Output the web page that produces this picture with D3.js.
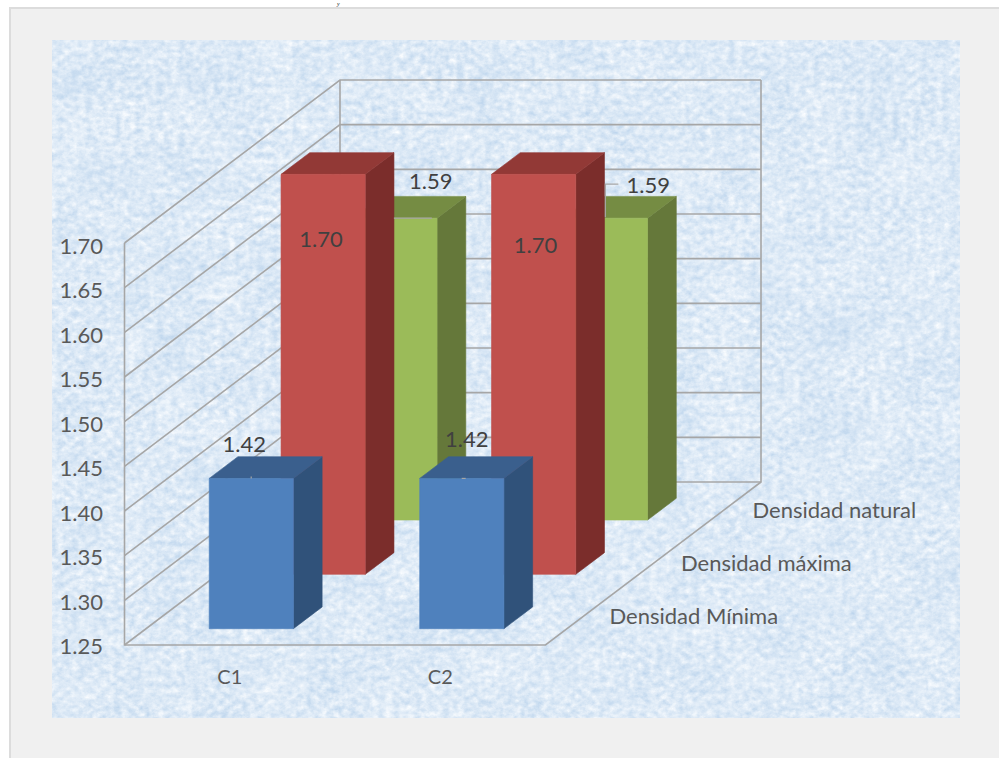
<!DOCTYPE html>
<html lang="es">
<head>
<meta charset="utf-8">
<title>Densidad por calicata</title>
<script src="https://cdn.jsdelivr.net/npm/d3@7/dist/d3.min.js"></script>
<style>
  html, body { margin: 0; padding: 0; background: #fff; }
  svg { display: block; }
  text { font-family: Lato, "Open Sans", sans-serif; }
</style>
</head>
<body>
<div id="chart"></div>
<script>
// Chart values
const categories = ["C1", "C2"];
const seriesNames = ["Densidad Mínima", "Densidad máxima", "Densidad natural"];
const densidadMinima = [1.42, 1.42];
const densidadMaxima = [1.70, 1.70];
const densidadNatural = [1.59, 1.59];
const axisTicks = [1.25, 1.30, 1.35, 1.40, 1.45, 1.50, 1.55, 1.60, 1.65, 1.70];

const seriesValues = [densidadMinima, densidadMaxima, densidadNatural];
const seriesColors = [
  { front: "#4f81bd", top: "#3a5f8d", side: "#30527a" },
  { front: "#c0504d", top: "#923936", side: "#7b2d2b" },
  { front: "#9bbb59", top: "#758c43", side: "#65783a" }
];

const width = 999, height = 758;
const fontSize = 22;
const svg = d3.select("#chart").append("svg").attr("width", width).attr("height", height);

// Mottled paper fill behind the plot: a fine grain over a very faint, broad cloud
const defs = svg.append("defs");
const paper = defs.append("filter").attr("id", "paper")
  .attr("x", 0).attr("y", 0).attr("width", 1).attr("height", 1)
  .attr("color-interpolation-filters", "sRGB");
paper.append("feTurbulence").attr("type", "fractalNoise")
  .attr("baseFrequency", "0.14 0.17").attr("numOctaves", 4).attr("seed", 11).attr("result", "grain");
paper.append("feTurbulence").attr("type", "fractalNoise")
  .attr("baseFrequency", "0.02").attr("numOctaves", 3).attr("seed", 5).attr("result", "cloud");
paper.append("feComposite").attr("in", "grain").attr("in2", "cloud")
  .attr("operator", "arithmetic").attr("k1", 0).attr("k2", 0.75).attr("k3", 0.25).attr("k4", 0);
paper.append("feColorMatrix").attr("type", "matrix").attr("values",
  "0.34 0 0 0 0.695  0.22 0 0 0 0.805  0.10 0 0 0 0.915  0 0 0 0 1");

// Page panel, edged along its top and left only
svg.append("rect").attr("width", width).attr("height", height).attr("fill", "#fff");
svg.append("rect").attr("x", 10).attr("y", 8).attr("width", width - 10).attr("height", height - 8)
  .attr("fill", "#f0f0f0");
svg.append("path").attr("d", d3.line()([[10, height], [10, 8], [width, 8]]))
  .attr("fill", "none").attr("stroke", "#dcdcdc").attr("stroke-width", 2);
svg.append("text").attr("x", 337).attr("y", 5.5).attr("font-size", 6)
  .attr("font-style", "italic").style("font-family", "'Liberation Serif', serif").attr("fill", "#222").text("y");
svg.append("rect").attr("x", 52).attr("y", 40).attr("width", 908).attr("height", 678)
  .attr("fill", "#dbe8f6").attr("filter", "url(#paper)");

// Oblique projection: t runs from the front plane (0) to the back wall (1)
const plot = { left: 124.5, right: 545.5, bottom: 645, top: 243 };
const depth = { dx: 215.5, dy: 163 };
const project = (x, y, t) => [x + depth.dx * t, y - depth.dy * t];

const xScale = d3.scaleBand().domain(categories).range([plot.left, plot.right])
  .paddingInner(0.6).paddingOuter(0.3);
const zScale = d3.scaleBand().domain(seriesNames).range([0, 1])
  .paddingInner(0.6).paddingOuter(0.3);
const yScale = d3.scaleLinear().domain([1.25, 1.70]).range([plot.bottom, plot.top]);
const barHeight = d3.scaleLinear().domain([1.2515, 1.70]).range([0, 400]);
const labelScale = d3.scaleLinear().domain([1.25, 1.70]).range([646.5, 246.5]);
const seriesLabelX = d3.scalePoint().domain(seriesNames).range([609.5, 752.5]);
const seriesLabelY = d3.scalePoint().domain(seriesNames).range([615.5, 509.5]);

// Walls and gridlines
const gridColor = "#a6a6a6";
const poly = d3.line();
const walls = svg.append("g").attr("fill", "none").attr("stroke", gridColor).attr("stroke-width", 1.6);
walls.selectAll(".grid").data(axisTicks).join("path").attr("class", "grid")
  .attr("d", v => poly([
    project(plot.left, yScale(v), 0),
    project(plot.left, yScale(v), 1),
    project(plot.right, yScale(v), 1)
  ]));
walls.append("path").attr("d", poly([
  project(plot.left, plot.top, 0),
  project(plot.left, plot.bottom, 0),
  project(plot.right, plot.bottom, 0),
  project(plot.right, plot.bottom, 1),
  project(plot.right, plot.top, 1)
]));
walls.append("path").attr("d", poly([
  project(plot.left, plot.top, 1),
  project(plot.left, plot.bottom, 1)
]));

// Flat list of bars, painted from the back row to the front row
const bars = seriesNames.flatMap((name, s) => categories.map((cat, c) => ({
  name, cat, value: seriesValues[s][c], colors: seriesColors[s], s, c
}))).sort((a, b) => b.s - a.s);

const closed = pts => poly(pts) + "Z";
const barGroups = svg.append("g").selectAll("g").data(bars).join("g");
barGroups.each(function (d) {
  const x0 = xScale(d.cat), x1 = x0 + xScale.bandwidth();
  const t0 = zScale(d.name), t1 = t0 + zScale.bandwidth();
  const yb = plot.bottom, yt = plot.bottom - barHeight(d.value);
  const g = d3.select(this);
  const face = (pts, color) => g.append("path").attr("d", closed(pts))
    .attr("fill", color).attr("stroke", color).attr("stroke-width", 0.6);
  face([project(x1, yb, t0), project(x1, yb, t1), project(x1, yt, t1), project(x1, yt, t0)], d.colors.side);
  face([project(x0, yt, t0), project(x1, yt, t0), project(x1, yt, t1), project(x0, yt, t1)], d.colors.top);
  face([project(x0, yb, t0), project(x1, yb, t0), project(x1, yt, t0), project(x0, yt, t0)], d.colors.front);
});

// Leader stubs for the data labels that were dragged off their bars
const barTop = d => project(xScale(d.cat), plot.bottom - barHeight(d.value), zScale(d.name));
const leaders = [
  { s: 0, c: 0, path: [[42, -2], [42, 0]] },
  { s: 0, c: 1, path: [[42, 0], [46, 0]] },
  { s: 2, c: 0, path: [[41, 0], [79, 0]] },
  { s: 2, c: 1, path: [[42, -1], [42, -34], [55, -34]] }
];
svg.append("g").attr("fill", "none").attr("stroke", "#a6a6a6").attr("stroke-width", 1.2)
  .selectAll("path").data(leaders).join("path")
  .attr("d", l => {
    const d = bars.find(b => b.s === l.s && b.c === l.c);
    const [ox, oy] = barTop(d);
    return poly(l.path.map(([a, b]) => [ox + a, oy + b]));
  });

// Data labels, offset from each bar's top front corner
const labelOffsets = [
  [[35, -35], [47, -40]],
  [[40, 64], [44, 70]],
  [[78, -38], [85, -34]]
];
svg.append("g").attr("fill", "#404040").attr("font-size", fontSize)
  .attr("text-anchor", "middle").attr("dominant-baseline", "central")
  .selectAll("text").data(bars).join("text")
  .attr("x", d => barTop(d)[0] + labelOffsets[d.s][d.c][0])
  .attr("y", d => barTop(d)[1] + labelOffsets[d.s][d.c][1])
  .text(d => d.value.toFixed(2));

// Value axis labels
const axis = d3.axisLeft(labelScale).tickValues(axisTicks).tickFormat(d3.format(".2f")).tickSize(0).tickPadding(0);
const axisG = svg.append("g").attr("transform", "translate(103,0)").call(axis);
axisG.select(".domain").remove();
axisG.selectAll("text").attr("font-size", fontSize).attr("fill", "#595959")
  .style("font-family", "Lato, 'Open Sans', sans-serif");

// Category labels under the front edge
svg.append("g").attr("fill", "#595959").attr("font-size", 20).attr("text-anchor", "middle")
  .attr("dominant-baseline", "central")
  .selectAll("text").data(categories).join("text")
  .attr("x", d => xScale(d) + xScale.bandwidth() / 2)
  .attr("y", 676)
  .text(d => d);

// Series labels stepping up beside the floor's right edge
svg.append("g").attr("fill", "#595959").attr("font-size", fontSize).attr("dominant-baseline", "central")
  .selectAll("text").data(seriesNames).join("text")
  .attr("x", d => seriesLabelX(d))
  .attr("y", d => seriesLabelY(d))
  .text(d => d);
</script>
</body>
</html>
